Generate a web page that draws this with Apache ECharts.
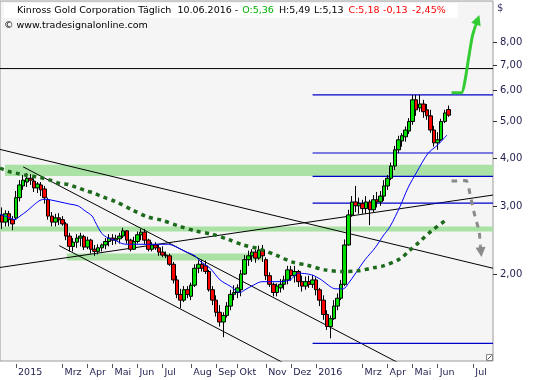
<!DOCTYPE html>
<html><head><meta charset="utf-8">
<script src="https://cdn.jsdelivr.net/npm/echarts@6/dist/echarts.min.js"></script>
<style>html,body{margin:0;padding:0;background:#fff}#c{width:540px;height:380px}</style>
</head><body><div id="c"></div>
<script>
// ---- data (prices in $, each candle = ~3 trading days; [open, close, low, high]) ----
const candles = [
[2.85,2.73,2.62,2.98],[2.73,2.87,2.66,2.93],[2.87,2.77,2.66,2.92],[2.77,2.70,2.60,2.83],[2.80,3.16,2.77,3.29],
[3.16,3.41,3.09,3.51],[3.39,3.51,3.31,3.62],[3.47,3.55,3.37,3.66],[3.55,3.51,3.41,3.64],[3.49,3.35,3.27,3.55],
[3.35,3.43,3.25,3.47],[3.41,3.31,3.19,3.47],[3.33,3.16,3.05,3.39],[3.12,2.83,2.77,3.16],[2.83,2.73,2.66,2.90],
[2.73,2.80,2.66,2.87],[2.80,2.77,2.68,2.88],[2.77,2.70,2.67,2.83],[2.70,2.51,2.45,2.73],[2.51,2.36,2.29,2.56],
[2.36,2.42,2.29,2.48],[2.42,2.48,2.34,2.54],[2.48,2.51,2.36,2.56],[2.50,2.35,2.31,2.53],[2.35,2.45,2.32,2.50],
[2.45,2.32,2.26,2.47],[2.32,2.29,2.23,2.38],[2.29,2.34,2.25,2.39],[2.34,2.38,2.29,2.40],[2.38,2.43,2.32,2.48],
[2.43,2.48,2.36,2.54],[2.48,2.45,2.38,2.54],[2.45,2.47,2.39,2.53],[2.47,2.51,2.40,2.56],[2.51,2.59,2.48,2.64],
[2.59,2.45,2.40,2.60],[2.45,2.32,2.29,2.47],[2.32,2.43,2.31,2.50],[2.43,2.53,2.40,2.58],[2.53,2.57,2.45,2.62],
[2.57,2.45,2.39,2.62],[2.45,2.32,2.29,2.47],[2.32,2.38,2.29,2.42],[2.38,2.34,2.31,2.42],[2.34,2.28,2.23,2.39],
[2.28,2.24,2.21,2.36],[2.24,2.23,2.20,2.29],[2.23,2.12,2.10,2.26],[2.12,1.93,1.89,2.15],[1.93,1.77,1.73,1.98],
[1.77,1.71,1.63,1.83],[1.71,1.82,1.69,1.86],[1.82,1.77,1.73,1.86],[1.75,1.87,1.71,1.90],[1.87,2.07,1.85,2.12],
[2.07,2.12,2.01,2.17],[2.12,2.07,2.03,2.18],[2.10,2.03,2.00,2.17],[2.03,1.82,1.80,2.05],[1.82,1.71,1.66,1.86],
[1.71,1.59,1.55,1.76],[1.59,1.50,1.46,1.66],[1.50,1.56,1.37,1.59],[1.56,1.65,1.54,1.69],[1.65,1.77,1.61,1.82],
[1.77,1.79,1.71,1.87],[1.79,1.84,1.73,1.88],[1.82,2.00,1.75,2.05],[2.00,2.18,1.99,2.24],[2.18,2.23,2.10,2.30],
[2.23,2.28,2.15,2.32],[2.28,2.20,2.14,2.31],[2.20,2.31,2.18,2.37],[2.31,2.23,2.15,2.38],[2.18,1.98,1.93,2.21],
[1.98,1.88,1.85,2.02],[1.88,1.79,1.75,1.90],[1.79,1.86,1.75,1.89],[1.84,1.88,1.79,1.94],[1.88,1.93,1.82,1.98],
[1.93,2.05,1.88,2.10],[2.05,1.98,1.92,2.10],[1.98,2.03,1.90,2.10],[2.03,1.91,1.85,2.05],[1.91,1.86,1.80,1.98],
[1.86,1.91,1.82,1.97],[1.91,1.88,1.84,1.98],[1.88,1.93,1.84,1.99],[1.93,1.82,1.76,1.96],[1.82,1.71,1.65,1.84],
[1.71,1.57,1.52,1.76],[1.57,1.46,1.43,1.61],[1.46,1.53,1.36,1.56],[1.53,1.65,1.52,1.71],[1.65,1.73,1.61,1.78],
[1.73,1.88,1.71,1.93],[1.88,2.38,1.86,2.46],[2.38,2.85,2.37,2.94],[2.85,3.08,2.82,3.19],[3.08,3.01,2.90,3.39],
[3.01,3.05,2.87,3.16],[3.05,2.96,2.87,3.12],[2.96,3.08,2.87,3.19],[3.08,2.94,2.68,3.12],[2.94,3.12,2.90,3.21],
[3.12,3.08,2.98,3.27],[3.08,3.19,3.01,3.29],[3.19,3.39,3.10,3.51],[3.39,3.55,3.31,3.62],[3.55,3.82,3.51,3.90],
[3.82,4.21,3.73,4.31],[4.21,4.47,4.13,4.58],[4.44,4.58,4.29,4.65],[4.55,4.74,4.42,4.84],[4.71,4.99,4.63,5.09],
[4.99,5.68,4.89,5.85],[5.68,5.35,5.16,5.85],[5.41,5.54,5.29,5.85],[5.54,5.29,5.10,5.68],[5.35,5.16,5.04,5.54],
[5.16,4.74,4.66,5.35],[4.74,4.39,4.29,4.86],[4.39,4.47,4.21,4.68],[4.47,4.99,4.44,5.07],[4.99,5.25,4.94,5.35],
[5.36,5.18,5.13,5.49]
];
const slotCount = 138;
const monthTickIdx  = [4,17,24,31,38,45,53,60,66,74,81,88,101,108,115,122,132];
const monthTickText = ['2015','Mrz','Apr','Mai','Jun','Jul','Aug','Sep','Okt','Nov','Dez','2016','Mrz','Apr','Mai','Jun','Jul'];
const yTicks = [2,3,4,5,6,7,8];

// moving averages: [slot position, price]
const maBlue = [[-0.5,2.86],[2.3,2.80],[3.7,2.77],[5.1,2.83],[7.1,2.92],[8.7,3.01],[10.7,3.11],[12.1,3.13],[13.5,3.12],[16.3,3.08],[19.1,3.04],[21.3,3.01],[23.3,2.92],[25.3,2.83],[26.1,2.74],[28.0,2.55],[29.8,2.48],[31.7,2.45],[33.6,2.40],[35.4,2.39],[37.3,2.39],[42.9,2.39],[46.6,2.39],[48.5,2.36],[51.3,2.29],[54.1,2.23],[55.5,2.16],[58.3,2.07],[61.1,1.93],[63.9,1.86],[66.7,1.79],[68.1,1.82],[70.4,1.87],[72.8,1.91],[75.1,1.91],[77.9,1.91],[80.7,1.93],[83.0,2.01],[86.7,1.99],[89.5,1.93],[91.4,1.87],[93.3,1.83],[95.6,1.83],[97.0,1.89],[98.9,2.00],[101.7,2.18],[104.5,2.34],[106.7,2.51],[108.7,2.66],[111.5,3.00],[113.7,3.35],[116.2,3.69],[119.3,4.12],[122.1,4.34],[124.6,4.60]];
const maGreen = [[-0.5,3.77],[2.3,3.69],[4.6,3.65],[7.0,3.61],[9.8,3.58],[11.6,3.55],[14.0,3.50],[16.3,3.44],[18.6,3.42],[21.0,3.36],[23.3,3.30],[25.6,3.25],[28.4,3.17],[31.7,3.09],[36.4,2.94],[40.6,2.82],[44.8,2.76],[49.4,2.67],[54.1,2.59],[58.8,2.54],[63.4,2.46],[67.6,2.38],[72.3,2.32],[76.8,2.24],[81.2,2.15],[85.4,2.11],[90.5,2.05],[95.1,2.03],[99.8,2.04],[104.5,2.08],[106.8,2.10],[111.5,2.19],[114.3,2.31],[116.6,2.41],[120.3,2.59],[124.5,2.77]];

// drawn lines
const trendLines = [
  [[-0.5,4.22],[137.5,2.07]],
  [[6.0,3.80],[112.9,1.15]],
  [[16.1,2.37],[80.7,1.15]],
  [[-0.5,2.08],[137.5,3.21]]
];
const blackLevel = 6.85;
const blueLevels = [5.85,4.13,3.59,3.06,1.32];
const blueLevelStart = 87.0;
const bands = [[0.9,137.5,3.60,3.85],[-0.5,137.5,2.58,2.66],[18.2,73.1,2.17,2.26]];
const greenArrow = [[125.9,5.93],[128.7,5.93],[129.7,6.40],[130.6,7.22],[131.7,8.30],[132.6,8.86]];
const greenArrowHead = [[132.6,8.86],[133.2,9.18]];
const grayArrow = [[125.9,3.49],[127.8,3.49],[130.0,3.50],[130.5,3.41],[131.2,3.19],[131.9,2.97],[132.7,2.77],[133.6,2.59],[133.97,2.37]];
const grayArrowHead = [[133.97,2.37],[134.14,2.28]];

const FONT = "'DejaVu Sans', sans-serif";
const NAVY = '#1e1e4e';
const cats = Array.from({length: slotCount}, (_, i) => String(i));
const tickMap = new Map(monthTickIdx.map((i, k) => [i, monthTickText[k]]));
const showTick = (i) => tickMap.has(i);

const lineBase = (data, color, width, z, extra) => Object.assign({
  type: 'line', xAxisIndex: 1, yAxisIndex: 0, data, symbol: 'none', silent: true,
  lineStyle: {color, width}, z, clip: true, animation: false
}, extra || {});

const series = [];
series.push(lineBase([[-0.5, blackLevel],[137.5, blackLevel]], '#000', 1, 1, {
  markArea: {silent: true, itemStyle: {color: '#a9e2a4'},
    data: bands.map(b => [{coord: [b[0], b[3]]}, {coord: [b[1], b[2]]}])}
}));
trendLines.forEach(t => series.push(lineBase(t, '#000', 1, 2)));
blueLevels.forEach(v => series.push(lineBase([[blueLevelStart, v],[137.5, v]], '#0000cc', 1.2, 2)));
series.push({
  type: 'candlestick', xAxisIndex: 0, yAxisIndex: 0, data: candles, barWidth: 4, z: 3, silent: true,
  itemStyle: {color: '#00e000', color0: '#ff0000', borderColor: '#000', borderColor0: '#000', borderWidth: 1}
});
series.push(lineBase(maBlue, '#0000ff', 1, 4, {smooth: 0.3}));
series.push(lineBase(maGreen, '#1d6a1d', 3.5, 4, {smooth: 0.3, lineStyle: {color: '#1d6a1d', width: 3.5, type: [4, 4.3]}}));
series.push(lineBase(greenArrow, '#33cc33', 3, 5, {smooth: 0.2}));
series.push(lineBase(grayArrow, '#8a8a8a', 3, 5, {smooth: 0.2, lineStyle: {color: '#8a8a8a', width: 3, type: [5.5, 6]}}));
series.push({type: 'lines', coordinateSystem: 'cartesian2d', xAxisIndex: 1, yAxisIndex: 0, z: 5, silent: true,
  symbol: ['none', 'triangle'], symbolSize: 10, lineStyle: {color: '#33cc33', width: 3, opacity: 1},
  data: [{coords: greenArrowHead}]});
series.push({type: 'lines', coordinateSystem: 'cartesian2d', xAxisIndex: 1, yAxisIndex: 0, z: 5, silent: true,
  symbol: ['none', 'triangle'], symbolSize: 10, lineStyle: {color: '#8a8a8a', width: 3, opacity: 1},
  data: [{coords: grayArrowHead}]});

const chart = echarts.init(document.getElementById('c'), null, {renderer: 'canvas'});
chart.setOption({
  animation: false,
  backgroundColor: '#fff',
  title: [
    {left: 4, top: 3, padding: [2, 12, 2, 13], backgroundColor: '#fff',
     text: '{n|Kinross Gold Corporation Täglich}{d|10.06.2016 -}{g|O:5,36}{h|H:5,49}{l|L:5,13}{r|C:5,18}{r2|-0,13}{r3|-2,45%}',
     textStyle: {fontFamily: FONT, fontSize: 9.5, fontWeight: 'normal', lineHeight: 11,
       rich: {
         n: {color: '#000', fontFamily: FONT, fontSize: 9.5},
         d: {color: '#000', fontFamily: FONT, fontSize: 9.5, padding: [0, 0, 0, 6]},
         g: {color: '#00b000', fontFamily: FONT, fontSize: 9.5, padding: [0, 0, 0, 4]},
         h: {color: '#000', fontFamily: FONT, fontSize: 9.5, padding: [0, 0, 0, 5]},
         l: {color: '#000', fontFamily: FONT, fontSize: 9.5, padding: [0, 0, 0, 3.5]},
         r: {color: '#ff0000', fontFamily: FONT, fontSize: 9.5, padding: [0, 0, 0, 5]},
         r2: {color: '#ff0000', fontFamily: FONT, fontSize: 9.5, padding: [0, 0, 0, 3.5]},
         r3: {color: '#ff0000', fontFamily: FONT, fontSize: 9.5, padding: [0, 0, 0, 4.5]}
       }}},
    {left: 4, top: 20, padding: 0, text: '© www.tradesignalonline.com',
     textStyle: {fontFamily: FONT, fontSize: 9.5, fontWeight: 'normal', color: '#000', lineHeight: 12}},
    {left: 497, top: 3, padding: 0, text: '$',
     textStyle: {fontFamily: FONT, fontSize: 10, fontWeight: 'normal', color: '#3a3a6a'}}
  ],
  grid: {left: 0, right: 47, top: 1, bottom: 19, show: true, backgroundColor: '#f5f5f5',
         borderColor: '#9a9a9a', borderWidth: 1, containLabel: false},
  xAxis: [
    {type: 'category', data: cats, boundaryGap: true, offset: 3,
     axisLine: {show: false, onZero: false},
     axisTick: {show: true, alignWithLabel: true, interval: showTick, length: 4, lineStyle: {color: '#555'}},
     axisLabel: {interval: showTick, formatter: (v, i) => tickMap.get(i) || '', align: 'left', margin: 4,
       padding: [0, 0, 0, 2], fontFamily: FONT, fontSize: 9.5, color: NAVY},
     splitLine: {show: false}},
    {type: 'value', min: -0.5, max: 137.5, show: false}
  ],
  yAxis: [
    {type: 'log', logBase: 10, min: 1.1874, max: 10.27, position: 'right',
     axisLine: {show: false, onZero: false},
     axisTick: {show: true, inside: false, length: 4, lineStyle: {color: '#333'}, customValues: yTicks},
     axisLabel: {customValues: yTicks, formatter: v => v.toFixed(2).replace('.', ','), margin: 7,
       fontFamily: FONT, fontSize: 10, color: NAVY},
     splitLine: {show: false}, minorTick: {show: false}, minorSplitLine: {show: false}}
  ],
  graphic: [
    {type: 'group', z: 100, children: [
      {type: 'line', shape: {x1: 7.5, y1: 4, x2: 7.5, y2: 16}, style: {stroke: '#000', lineWidth: 1}},
      {type: 'rect', shape: {x: 5.5, y: 7, width: 4, height: 6}, style: {fill: '#00d000', stroke: '#000', lineWidth: 1}},
      {type: 'line', shape: {x1: 12.5, y1: 5, x2: 12.5, y2: 15}, style: {stroke: '#000', lineWidth: 1}},
      {type: 'rect', shape: {x: 10.5, y: 6, width: 4, height: 6}, style: {fill: '#00d000', stroke: '#000', lineWidth: 1}},
      {type: 'rect', shape: {x: 486.5, y: 354.5, width: 6, height: 6}, style: {fill: '#fff', stroke: '#888', lineWidth: 1}},
      {type: 'line', shape: {x1: 487.5, y1: 359.5, x2: 491.5, y2: 355.5}, style: {stroke: '#555', lineWidth: 1}}
    ]}
  ],
  series
});
</script>
</body></html>
